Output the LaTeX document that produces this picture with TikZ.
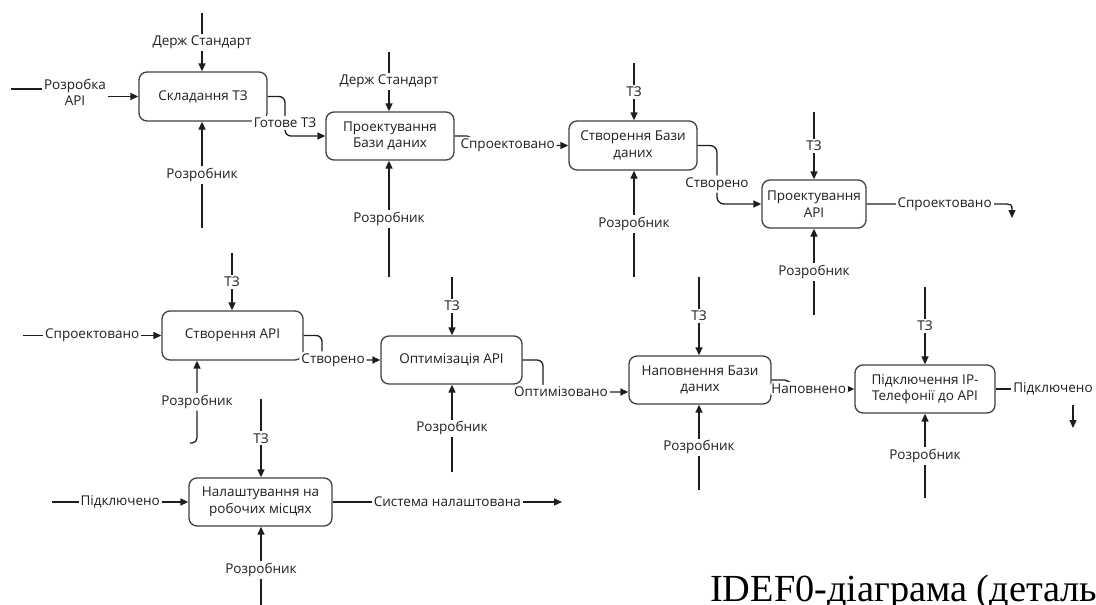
\documentclass[tikz,border=0pt]{standalone}
\usepackage{fontspec}
\setmainfont{Open Sans}
\newfontfamily\titlefont{Liberation Serif}
\usetikzlibrary{arrows.meta}
\definecolor{ink}{HTML}{1E1E1E}
\definecolor{frame}{HTML}{404040}
\begin{document}
\begin{tikzpicture}[x=1pt,y=-1pt,
  proc/.style={draw=frame, line width=1.3pt, rounded corners=8pt, fill=white,
    align=center, text=ink, inner sep=0pt,
    font=\fontsize{13.5}{16.5}\selectfont},
  flow/.style={draw=ink, line width=1.3pt, -{Triangle[length=8pt,width=7pt]}},
  wire/.style={draw=ink, line width=1.3pt},
  lbl/.style={fill=white, inner sep=2pt, text=ink, align=center,
    font=\fontsize{13.5}{16}\selectfont},
]
\useasboundingbox (0,0) rectangle (1096,605);
\clip (0,0) rectangle (1096,605);

% ---------- activity boxes ----------
\node[proc, minimum width=128, minimum height=49] (A) at (203,96.5) {Складання ТЗ};
\node[proc, minimum width=128, minimum height=48] (B) at (390,136) {Проектування\\Бази даних};
\node[proc, minimum width=128, minimum height=49] (C) at (633,145.5) {Створення Бази\\даних};
\node[proc, minimum width=104, minimum height=48] (D) at (814,204) {Проектування\\API};
\node[proc, minimum width=141, minimum height=49] (E) at (232.5,335.5) {Створення API};
\node[proc, minimum width=141, minimum height=48] (F) at (451.5,360) {Оптимізація API};
\node[proc, minimum width=142, minimum height=48] (G) at (700,380) {Наповнення Бази\\даних};
\node[proc, minimum width=140, minimum height=48] (H) at (925,389) {Підключення IP-\\Телефонії до API};
\node[proc, minimum width=143, minimum height=48] (I) at (260.5,502) {Налаштування на\\робочих місцях};

% ---------- free ends of controls (top) and mechanisms (bottom) ----------
\coordinate (cA) at (202,13);   \coordinate (mA) at (202,228);
\coordinate (cB) at (389,52);   \coordinate (mB) at (389,277);
\coordinate (cC) at (634,63);   \coordinate (mC) at (634,277);
\coordinate (cD) at (814,112);  \coordinate (mD) at (814,315);
\coordinate (cE) at (232,253);
\coordinate (cF) at (452,277);  \coordinate (mF) at (452,472);
\coordinate (cG) at (699,277);  \coordinate (mG) at (699,490);
\coordinate (cH) at (925,287);  \coordinate (mH) at (925,498);
\coordinate (cI) at (261,399);  \coordinate (mI) at (261,610);

% controls
\draw[flow] (cA) -- node[lbl]{Держ Стандарт} (cA |- A.north);
\draw[flow] (cB) -- node[lbl]{Держ Стандарт} (cB |- B.north);
\draw[flow] (cC) -- node[lbl]{ТЗ} (cC |- C.north);
\draw[flow] (cD) -- node[lbl]{ТЗ} (cD |- D.north);
\draw[flow] (cE) -- node[lbl]{ТЗ} (cE |- E.north);
\draw[flow] (cF) -- node[lbl]{ТЗ} (cF |- F.north);
\draw[flow] (cG) -- node[lbl]{ТЗ} (cG |- G.north);
\draw[flow] (cH) -- node[lbl]{ТЗ} (cH |- H.north);
\draw[flow] (cI) -- node[lbl, pos=0.5]{ТЗ} (cI |- I.north);

% mechanisms
\draw[flow] (mA) -- node[lbl]{Розробник} (mA |- A.south);
\draw[flow] (mB) -- node[lbl]{Розробник} (mB |- B.south);
\draw[flow] (mC) -- node[lbl]{Розробник} (mC |- C.south);
\draw[flow] (mD) -- node[lbl]{Розробник} (mD |- D.south);
\draw[flow] (mF) -- node[lbl]{Розробник} (mF |- F.south);
\draw[flow] (mG) -- node[lbl]{Розробник} (mG |- G.south);
\draw[flow] (mH) -- node[lbl]{Розробник} (mH |- H.south);
\draw[flow] (mI) -- node[lbl, pos=0.48]{Розробник} (mI |- I.south);
\coordinate (mE0) at (190,443);
\coordinate (mE) at (197,443);
\draw[flow, rounded corners=5pt] (mE0) -- (mE) -- node[lbl]{Розробник} (mE |- E.south);

% ---------- inputs from outside ----------
\coordinate (inA) at (11,89);
\node[lbl] (inAl) at (75,92) {Розробка\\API};
\draw[wire] (inA) -- (inA -| inAl.west);
\draw[flow] (inAl.east |- A.west) -- (A.west);

\coordinate (inE) at (23,335.5);
\draw[flow] (inE) -- node[lbl]{Спроектовано} (E.west);

\coordinate (inI) at (52,502);
\draw[flow] (inI) -- node[lbl]{Підключено} (I.west);

% ---------- outputs chaining the activities ----------
\coordinate (bA) at (285,123);
\draw[flow, rounded corners=6pt] (A.east) -| (bA) node[lbl]{Готове ТЗ} |- (B.west);

\coordinate (bB) at (472,145.5);
\draw[flow, rounded corners=5pt] (B.east) -| (bB) -- node[lbl, pos=0.37]{Спроектовано} (C.west);

\coordinate (bC) at (717,184);
\draw[flow, rounded corners=7pt] (C.east) -| (bC) node[lbl]{Створено} |- (D.west);

\coordinate (bE) at (322,360);
\draw[flow, rounded corners=6pt] (E.east) -| (bE) -- node[lbl, pos=0.19]{Створено} (F.west);

\coordinate (bF) at (543,392);
\draw[flow, rounded corners=6pt] (F.east) -| (bF) -- node[lbl, pos=0.21]{Оптимізовано} (bF -| G.west);

\coordinate (bG) at (790,389);
\draw[flow, rounded corners=5pt] (G.east) -| (bG) -- node[lbl, pos=0.29]{Наповнено} (H.west);

% ---------- outputs leaving the diagram ----------
\coordinate (dOut) at (1001,204);
\coordinate (dCtl) at (1012,204);
\coordinate (dEnd) at (1012,218);
\draw[flow] (D.east) -- node[lbl, pos=0.58]{Спроектовано} (dOut) .. controls (dCtl) .. (dEnd);

\node[lbl] (hOut) at (1053,389) {Підключено};
\draw[wire] (H.east) -- (hOut.west);
\coordinate (hd1) at (1073,405);
\coordinate (hd2) at (1073,428);
\draw[flow] (hd1) -- (hd2);

\coordinate (outI) at (562,502);
\draw[flow] (I.east) -- node[lbl]{Система налаштована} (outI);

% ---------- caption ----------
\node[anchor=base west, inner sep=0pt, text=black,
  font=\titlefont\fontsize{38.3}{41}\selectfont] (title) at (710,601)
  {IDEF0-діаграма (детальна)};
\end{tikzpicture}
\end{document}
